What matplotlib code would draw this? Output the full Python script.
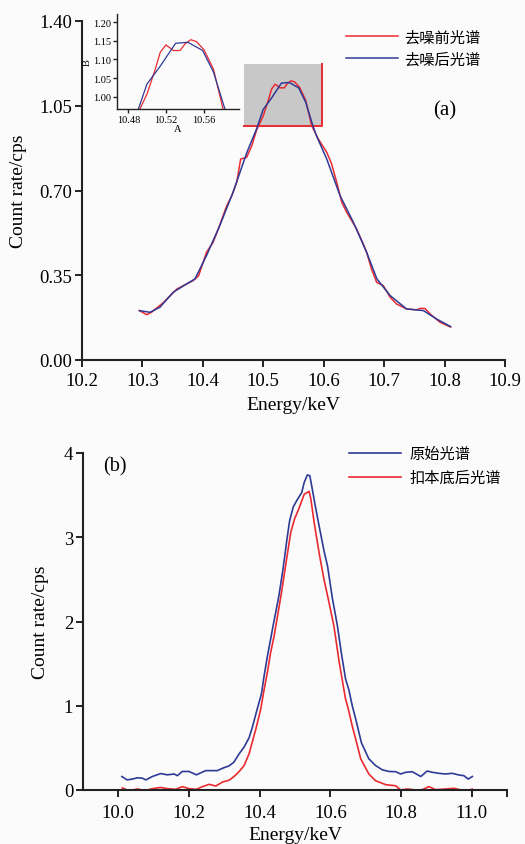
import matplotlib
matplotlib.use("Agg")
import matplotlib.pyplot as plt
from matplotlib.patches import Rectangle

plt.rcParams["font.family"] = ["Liberation Serif", "Noto Sans CJK SC"]

# (a) spectrum before / after denoising
energy_raw = [10.295, 10.307, 10.315, 10.335, 10.357, 10.373, 10.384, 10.393, 10.406, 10.417,
              10.4255, 10.4395, 10.448, 10.456, 10.4626, 10.4725, 10.481, 10.489, 10.4997, 10.508,
              10.5137, 10.5197, 10.5277, 10.5347, 10.540, 10.546, 10.552, 10.560, 10.570, 10.580,
              10.591, 10.605, 10.613, 10.6215, 10.630, 10.638, 10.6545, 10.6655, 10.671, 10.679,
              10.6876, 10.6986, 10.710, 10.7207, 10.737, 10.754, 10.759, 10.7676, 10.776, 10.7925,
              10.810]
count_raw = [0.204, 0.187, 0.197, 0.238, 0.293, 0.314, 0.328, 0.348, 0.445, 0.486,
             0.541, 0.637, 0.679, 0.734, 0.830, 0.837, 0.885, 0.950, 1.007, 1.070,
             1.119, 1.139, 1.124, 1.124, 1.142, 1.153, 1.148, 1.126, 1.074, 0.968,
             0.913, 0.858, 0.810, 0.734, 0.651, 0.610, 0.541, 0.479, 0.445, 0.376,
             0.321, 0.307, 0.259, 0.231, 0.211, 0.207, 0.213, 0.213, 0.190, 0.156,
             0.136]

energy_smooth = [10.295, 10.3125, 10.329, 10.351, 10.373, 10.387, 10.406, 10.428, 10.450, 10.473,
                 10.489, 10.4997, 10.514, 10.530, 10.543, 10.5586, 10.570, 10.582, 10.588, 10.605,
                 10.627, 10.649, 10.671, 10.688, 10.710, 10.737, 10.765, 10.787, 10.810]
count_smooth = [0.204, 0.197, 0.218, 0.280, 0.314, 0.335, 0.431, 0.555, 0.693, 0.858,
                0.955, 1.034, 1.083, 1.1435, 1.146, 1.124, 1.066, 0.968, 0.926, 0.830,
                0.679, 0.569, 0.445, 0.335, 0.266, 0.211, 0.204, 0.169, 0.138]

# (b) original spectrum and background-subtracted spectrum
energy_orig = [10.010, 10.025, 10.040, 10.054, 10.068, 10.078, 10.096, 10.120, 10.139, 10.158,
               10.167, 10.181, 10.200, 10.221, 10.247, 10.280, 10.299, 10.313, 10.327, 10.342,
               10.356, 10.370, 10.379, 10.393, 10.405, 10.412, 10.422, 10.431, 10.438, 10.446,
               10.455, 10.466, 10.478, 10.485, 10.495, 10.507, 10.519, 10.526, 10.535, 10.542,
               10.549, 10.557, 10.568, 10.582, 10.592, 10.606, 10.620, 10.631, 10.643, 10.653,
               10.662, 10.672, 10.688, 10.709, 10.728, 10.747, 10.766, 10.785, 10.799, 10.813,
               10.832, 10.856, 10.874, 10.889, 10.907, 10.926, 10.945, 10.964, 10.978, 10.990,
               11.002]
count_orig = [0.16, 0.12, 0.13, 0.145, 0.14, 0.12, 0.16, 0.195, 0.18, 0.19,
              0.17, 0.22, 0.22, 0.18, 0.23, 0.23, 0.265, 0.285, 0.33, 0.43,
              0.51, 0.62, 0.74, 0.96, 1.14, 1.34, 1.59, 1.79, 1.95, 2.12,
              2.32, 2.62, 3.00, 3.20, 3.36, 3.45, 3.53, 3.65, 3.74, 3.73,
              3.57, 3.38, 3.14, 2.84, 2.66, 2.27, 1.95, 1.63, 1.32, 1.18,
              1.00, 0.84, 0.56, 0.37, 0.29, 0.24, 0.22, 0.217, 0.19, 0.21,
              0.217, 0.16, 0.225, 0.21, 0.198, 0.19, 0.198, 0.178, 0.17, 0.13,
              0.16]

energy_sub = [10.011, 10.025, 10.040, 10.054, 10.068, 10.082, 10.096, 10.120, 10.139, 10.163,
              10.181, 10.200, 10.221, 10.238, 10.257, 10.276, 10.295, 10.313, 10.327, 10.342,
              10.356, 10.370, 10.389, 10.403, 10.412, 10.422, 10.431, 10.441, 10.452, 10.462,
              10.474, 10.488, 10.499, 10.511, 10.526, 10.540, 10.545, 10.554, 10.568, 10.582,
              10.596, 10.610, 10.625, 10.643, 10.651, 10.662, 10.672, 10.686, 10.709, 10.728,
              10.757, 10.785, 10.799, 10.818, 10.841, 10.860, 10.879, 10.898, 10.926, 10.950,
              10.966, 10.980, 11.002]
count_sub = [0.025, 0.0, 0.0, 0.012, 0.0, 0.0, 0.016, 0.03, 0.016, 0.008,
             0.04, 0.016, 0.008, 0.04, 0.067, 0.047, 0.095, 0.115, 0.158, 0.22,
             0.29, 0.43, 0.72, 0.96, 1.18, 1.40, 1.63, 1.83, 2.10, 2.35,
             2.68, 3.06, 3.22, 3.34, 3.51, 3.545, 3.45, 3.18, 2.82, 2.50,
             2.23, 1.95, 1.52, 1.08, 0.96, 0.76, 0.60, 0.37, 0.19, 0.11,
             0.063, 0.05, 0.0, 0.012, 0.0, 0.004, 0.04, 0.004, 0.012, 0.02,
             0.004, -0.01, 0.01]

RED = "#ea2a30"
BLUE = "#2e3a96"
BG = "#fbfbfb"
W, H = 525, 845

fig = plt.figure(figsize=(W / 100, H / 100), dpi=100, facecolor=BG)


def style(ax, size=13.5, pad=4):
    ax.set_facecolor("none")
    for s in ("top", "right"):
        ax.spines[s].set_visible(False)
    for s in ("left", "bottom"):
        ax.spines[s].set_linewidth(1.5)
        ax.spines[s].set_color("#222222")
    ax.tick_params(direction="out", length=5, width=1.4, labelsize=size,
                   color="#222222", pad=pad)


# ---- panel (a)
ax1 = fig.add_axes([82 / W, 1 - 361 / H, 423 / W, 339 / H])
style(ax1)
ax1.tick_params(axis="y", pad=2)
ax1.plot(energy_raw, count_raw, color=RED, lw=1.1, label="去噪前光谱", zorder=3)
ax1.plot(energy_smooth, count_smooth, color=BLUE, lw=1.1, label="去噪后光谱", zorder=4)
ax1.set_xlim(10.2, 10.9)
ax1.set_ylim(0, 1.4)
ax1.set_xticks([10.2, 10.3, 10.4, 10.5, 10.6, 10.7, 10.8, 10.9])
ax1.set_yticks([0, 0.35, 0.70, 1.05, 1.40])
ax1.set_yticklabels(["0.00", "0.35", "0.70", "1.05", "1.40"])
ax1.set_xlabel("Energy/keV", fontsize=14)
ax1.set_ylabel("Count rate/cps", fontsize=14)
ax1.xaxis.set_label_coords(0.5, -0.105)
ax1.yaxis.set_label_coords(-0.13, 0.5)

zx = (10.468, 10.597)
zy = (0.967, 1.222)
ax1.add_patch(Rectangle((zx[0], zy[0]), zx[1] - zx[0], zy[1] - zy[0],
                        facecolor="#c8c8c8", edgecolor="none", zorder=1))
ax1.plot([zx[0], zx[1], zx[1]], [zy[0], zy[0], zy[1]], color=RED, lw=1.4, zorder=2)

ax1.legend(loc="upper left", bbox_to_anchor=(346 / W, 1 - 31 / H),
           bbox_transform=fig.transFigure, frameon=False, fontsize=11,
           handlelength=3.4, handletextpad=0.4, labelspacing=0.5,
           borderpad=0, borderaxespad=0)
ax1.text(433 / W, 1 - 111 / H, "(a)", transform=fig.transFigure, fontsize=15,
         ha="left", va="center")

# inset
axi = fig.add_axes([117 / W, 1 - 110 / H, 122 / W, 95 / H])
style(axi, size=7.5, pad=1)
axi.tick_params(length=3, width=1.0)
for s in ("left", "bottom"):
    axi.spines[s].set_linewidth(1.0)
axi.plot(energy_raw, count_raw, color=RED, lw=0.9)
axi.plot(energy_smooth, count_smooth, color=BLUE, lw=0.9)
axi.set_xlim(*zx)
axi.set_ylim(*zy)
axi.set_xticks([10.48, 10.52, 10.56])
axi.set_yticks([1.00, 1.05, 1.10, 1.15, 1.20])
axi.set_yticklabels(["1.00", "1.05", "1.10", "1.15", "1.20"])
axi.set_xlabel("A", fontsize=7.5, labelpad=0)
axi.set_ylabel("B", fontsize=7.5, labelpad=1)

# ---- panel (b)
ax2 = fig.add_axes([83 / W, 1 - 791 / H, 424 / W, 337 / H])
style(ax2, pad=5)
ax2.tick_params(axis="y", pad=2)
ax2.plot(energy_orig, count_orig, color=BLUE, lw=1.2, label="原始光谱")
ax2.plot(energy_sub, count_sub, color=RED, lw=1.2, label="扣本底后光谱")
ax2.set_xlim(9.9, 11.1)
ax2.set_ylim(0, 4)
ax2.set_xticks([10.0, 10.2, 10.4, 10.6, 10.8, 11.0])
ax2.set_xticks([11.1], minor=True)
ax2.tick_params(which="minor", direction="out", length=5, width=1.4, color="#222222")
ax2.set_yticks([0, 1, 2, 3, 4])
ax2.set_xlabel("Energy/keV", fontsize=14)
ax2.set_ylabel("Count rate/cps", fontsize=14)
ax2.xaxis.set_label_coords(0.5, -0.108)
ax2.yaxis.set_label_coords(-0.08, 0.5)
ax2.legend(loc="upper left", bbox_to_anchor=(349 / W, 1 - 448 / H),
           bbox_transform=fig.transFigure, frameon=False, fontsize=11,
           handlelength=3.4, handletextpad=0.55, labelspacing=0.62,
           borderpad=0, borderaxespad=0)
ax2.text(103 / W, 1 - 467 / H, "(b)", transform=fig.transFigure, fontsize=14.5,
         ha="left", va="center")

fig.savefig("out.png", dpi=100, facecolor=BG)
